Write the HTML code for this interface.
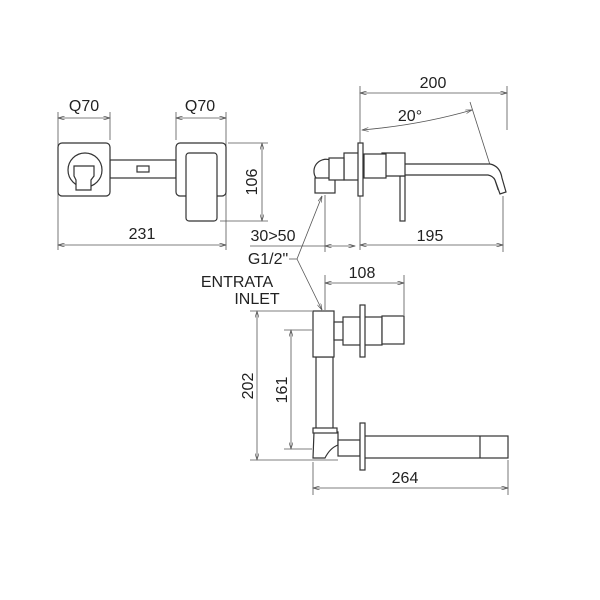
<!DOCTYPE html>
<html><head><style>html,body{margin:0;background:#fff}svg{display:block}text{font-family:"Liberation Sans",sans-serif;font-size:16px;fill:#222}</style></head><body>
<svg width="600" height="600" viewBox="0 0 600 600" xmlns="http://www.w3.org/2000/svg">
<defs><marker id="a" viewBox="0 0 10 6" refX="10" refY="3" markerWidth="9" markerHeight="5" orient="auto-start-reverse"><path d="M0,0L10,3L0,6" fill="none" stroke="#555" stroke-width="1"/></marker></defs>
<g fill="none" stroke="#555" stroke-width="0.8">
<line x1="58" y1="112" x2="58" y2="250"/><line x1="110" y1="112" x2="110" y2="140"/>
<line x1="58" y1="118" x2="110" y2="118" marker-start="url(#a)" marker-end="url(#a)"/>
<line x1="176" y1="112" x2="176" y2="140"/><line x1="226" y1="112" x2="226" y2="250"/>
<line x1="176" y1="118" x2="226" y2="118" marker-start="url(#a)" marker-end="url(#a)"/>
<line x1="228" y1="143" x2="268" y2="143"/><line x1="220" y1="221" x2="268" y2="221"/>
<line x1="262" y1="143" x2="262" y2="221" marker-start="url(#a)" marker-end="url(#a)"/>
<line x1="58" y1="245" x2="226" y2="245" marker-start="url(#a)" marker-end="url(#a)"/>
</g>
<g fill="#fff" stroke="#333" stroke-width="1.2">
<rect x="110" y="160" width="66" height="18"/><rect x="137" y="166" width="12" height="6"/>
<rect x="58" y="143" width="52" height="53" rx="4"/>
<circle cx="85" cy="170" r="17"/>
<path d="M74,166 h20 v10 l-3,4 v10 h-15 v-10 l-2,-4z"/>
<rect x="176" y="143" width="50" height="53" rx="4"/>
<rect x="186" y="153" width="31" height="68" rx="3"/>
</g>
<text x="84" y="111" text-anchor="middle">Q70</text>
<text x="200" y="111" text-anchor="middle">Q70</text>
<text x="142" y="239" text-anchor="middle">231</text>
<text transform="translate(257,182) rotate(-90)" text-anchor="middle">106</text>
<g fill="none" stroke="#555" stroke-width="0.8">
<line x1="360" y1="86" x2="360" y2="250"/><line x1="507" y1="86" x2="507" y2="130"/>
<line x1="360" y1="93" x2="507" y2="93" marker-start="url(#a)" marker-end="url(#a)"/>
<path d="M362,130 Q420,125 472,110" marker-start="url(#a)" marker-end="url(#a)"/>
<line x1="470" y1="102" x2="498" y2="190"/>
<line x1="503" y1="196" x2="503" y2="252"/>
<line x1="360" y1="245" x2="503" y2="245" marker-start="url(#a)" marker-end="url(#a)"/>
<line x1="325" y1="195" x2="325" y2="252"/>
<line x1="250" y1="246" x2="325" y2="246"/>
<line x1="325" y1="246" x2="355" y2="246" marker-start="url(#a)" marker-end="url(#a)"/>
<line x1="289" y1="259" x2="297" y2="259"/>
<line x1="297" y1="259" x2="322" y2="196" marker-end="url(#a)"/>
<line x1="297" y1="259" x2="322" y2="310" marker-end="url(#a)"/>
</g>
<g fill="#fff" stroke="#333" stroke-width="1.2">
<path d="M385,164 H490 Q500,166 502,178 L506,192 L500,194 L495,180 Q493,176 488,175 H385z"/>
<rect x="400" y="176" width="5" height="45"/>
<path d="M382,153 H405 V176 H382z"/>
<rect x="364" y="154" width="22" height="24"/>
<rect x="344" y="153" width="16" height="27"/>
<rect x="358" y="143" width="5" height="53"/>
<path d="M330,160 A12,12 0 0 0 316,178"/>
<rect x="315" y="178" width="20" height="15"/>
<rect x="329" y="158" width="15" height="22"/>
</g>
<text x="433" y="88" text-anchor="middle">200</text>
<text x="410" y="121" text-anchor="middle">20°</text>
<text x="430" y="241" text-anchor="middle">195</text>
<text x="273" y="241" text-anchor="middle">30&gt;50</text>
<text x="268" y="264" text-anchor="middle">G1/2"</text>
<text x="237" y="287" text-anchor="middle">ENTRATA</text>
<text x="257" y="304" text-anchor="middle">INLET</text>
<g fill="none" stroke="#555" stroke-width="0.8">
<line x1="325" y1="275" x2="325" y2="310"/><line x1="404" y1="275" x2="404" y2="315"/>
<line x1="325" y1="283" x2="404" y2="283" marker-start="url(#a)" marker-end="url(#a)"/>
<line x1="250" y1="311" x2="312" y2="311"/><line x1="250" y1="460" x2="338" y2="460"/>
<line x1="257" y1="311" x2="257" y2="460" marker-start="url(#a)" marker-end="url(#a)"/>
<line x1="284" y1="330" x2="312" y2="330"/><line x1="284" y1="449" x2="312" y2="449"/>
<line x1="291" y1="330" x2="291" y2="449" marker-start="url(#a)" marker-end="url(#a)"/>
<line x1="313" y1="462" x2="313" y2="495"/><line x1="508" y1="460" x2="508" y2="495"/>
<line x1="313" y1="488" x2="508" y2="488" marker-start="url(#a)" marker-end="url(#a)"/>
</g>
<g fill="#fff" stroke="#333" stroke-width="1.2">
<rect x="316" y="357" width="17" height="73"/>
<rect x="363" y="436" width="145" height="22"/><line x1="480" y1="436" x2="480" y2="458"/>
<path d="M314,432 H338 V445 Q330,448 325,458 H313z"/>
<rect x="313" y="428" width="24" height="5"/>
<rect x="338" y="440" width="22" height="16"/>
<rect x="360" y="423" width="5" height="47"/>
<rect x="313" y="311" width="21" height="46"/>
<rect x="334" y="322" width="10" height="18"/>
<rect x="343" y="317" width="39" height="28"/>
<rect x="360" y="305" width="5" height="52"/>
<rect x="382" y="316" width="22" height="28"/>
</g>
<text x="362" y="278" text-anchor="middle">108</text>
<text x="405" y="483" text-anchor="middle">264</text>
<text transform="translate(253,386) rotate(-90)" text-anchor="middle">202</text>
<text transform="translate(287,390) rotate(-90)" text-anchor="middle">161</text>
</svg>
</body></html>
